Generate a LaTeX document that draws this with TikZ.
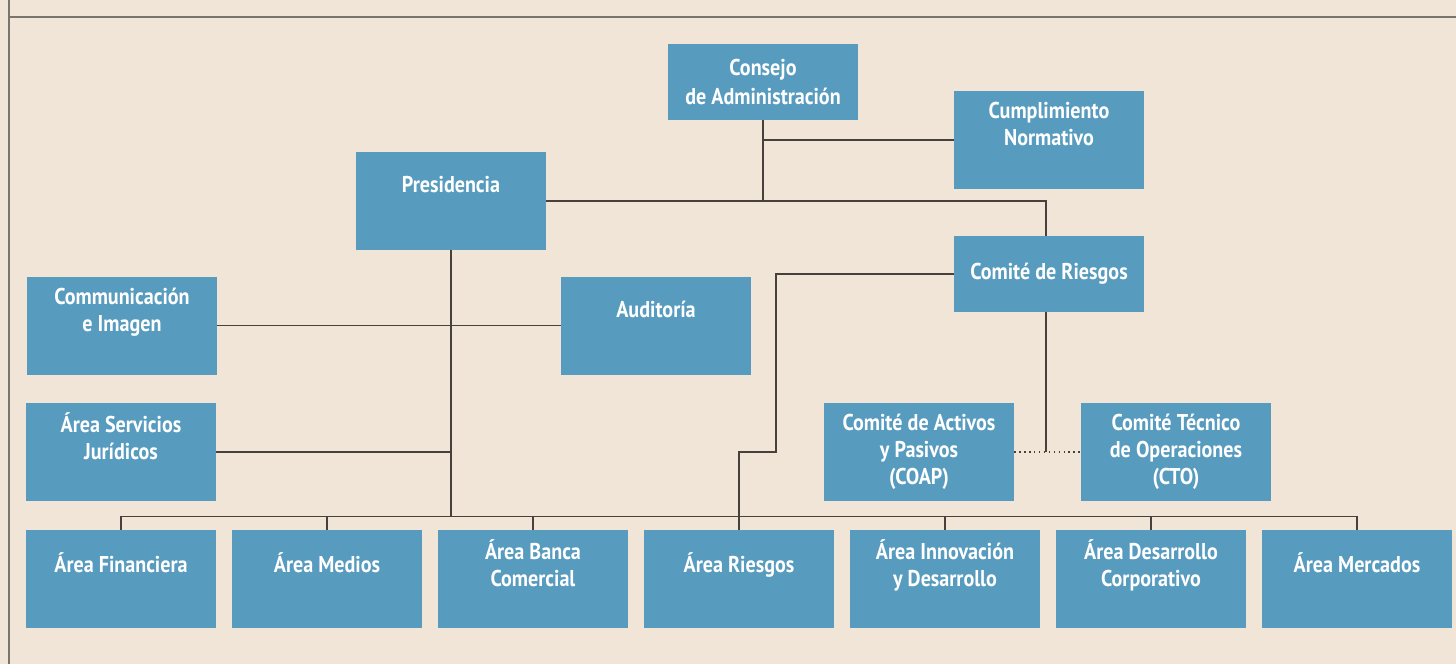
\documentclass[tikz,border=0pt]{standalone}
\usepackage{fontspec}
\setmainfont{PT Sans}[FakeStretch=0.88]
\usepackage{tikz}
\usetikzlibrary{positioning}
\definecolor{OrgBlue}{RGB}{87,155,191}
\definecolor{OrgBack}{RGB}{240,229,214}
\definecolor{OrgLine}{RGB}{72,64,60}
\definecolor{OrgFrame}{RGB}{122,116,110}
% empty last line, pushes the text into the upper part of a box
\newcommand{\pad}{\\[3pt]~}

\begin{document}
\begin{tikzpicture}[x=0.02cm, y=-0.02cm,
            bx/.style={rectangle, fill=OrgBlue, text=white, minimum width=3.8cm,
                       minimum height=1.96cm, inner sep=0pt, align=center,
                       font=\fontsize{13}{15.4}\selectfont\bfseries},
            bxs/.style={bx, minimum height=1.52cm},
            ln/.style={draw=OrgLine, line width=0.8pt},
            frame/.style={draw=OrgFrame, line width=1.2pt}
          ]
          \fill[OrgBack] (0,0) rectangle (1456,664);
          \useasboundingbox (0,0) rectangle (1456,664);
          \draw[frame] (9,0) -- (9,664);
          \draw[frame] (9,17) -- (1456,17);

          % top levels
          \node[bxs] (consejo) at (763, 82) {Consejo\\[1pt]de Administración};
          \node[bx]  (cumpl)   at (1049,140) {Cumplimiento\\Normativo\pad};
          \node[bx]  (pres)    at (451, 201) {Presidencia\pad};
          \node[bxs] (riesgos) at (1049,274) {Comité de Riesgos};
          \node[bx]  (com)     at (122, 325.5) {Communicación\\e Imagen\pad};
          \node[bx]  (aud)     at (656, 325.5) {Auditoría\pad};
          \node[bx]  (jur)     at (121, 452) {Área Servicios\\Jurídicos\pad};
          \node[bx]  (coap)    at (919, 452) {Comité de Activos\\y Pasivos\\(COAP)};
          \node[bx]  (cto)     at (1176,452) {Comité Técnico\\de Operaciones\\(CTO)};

          % areas
          \node[bx] (fin)   at (121, 579) {Área Financiera\pad};
          \node[bx] (med)   at (327, 579) {Área Medios\pad};
          \node[bx] (banca) at (533, 579) {Área Banca\\Comercial\pad};
          \node[bx] (ries)  at (739, 579) {Área Riesgos\pad};
          \node[bx] (innov) at (945, 579) {Área Innovación\\y Desarrollo\pad};
          \node[bx] (desa)  at (1151,579) {Área Desarrollo\\Corporativo\pad};
          \node[bx] (merc)  at (1357,579) {Área Mercados\pad};

          \coordinate (bus)  at (451, 517);
          \coordinate (kink) at (776, 452);
          \coordinate (rdrop) at (1046, 312);

          % connectors
          \draw[ln] (consejo.south) -- (consejo.south |- pres.east);
          \draw[ln] (cumpl.west) -- (cumpl.west -| consejo.south);
          \draw[ln] (pres.east) -| (rdrop |- riesgos.north);
          \draw[ln] (pres.south) -- (bus);
          \draw[ln] (com.east) -- (aud.west);
          \draw[ln] (jur.east) -- (jur.east -| pres.south);
          \draw[ln] (fin.north) -- ++(0,-13) -| (merc.north);
          \foreach \n in {med,banca,ries,innov,desa}
            \draw[ln] (\n.north) -- ++(0,-13);
          \draw[ln] (riesgos.west) -| (kink) -| (ries.north);
          \draw[ln] (rdrop) -- (rdrop |- coap.east);
          \draw[ln, dotted] (coap.east) -- (cto.west);
        \end{tikzpicture}
\end{document}
